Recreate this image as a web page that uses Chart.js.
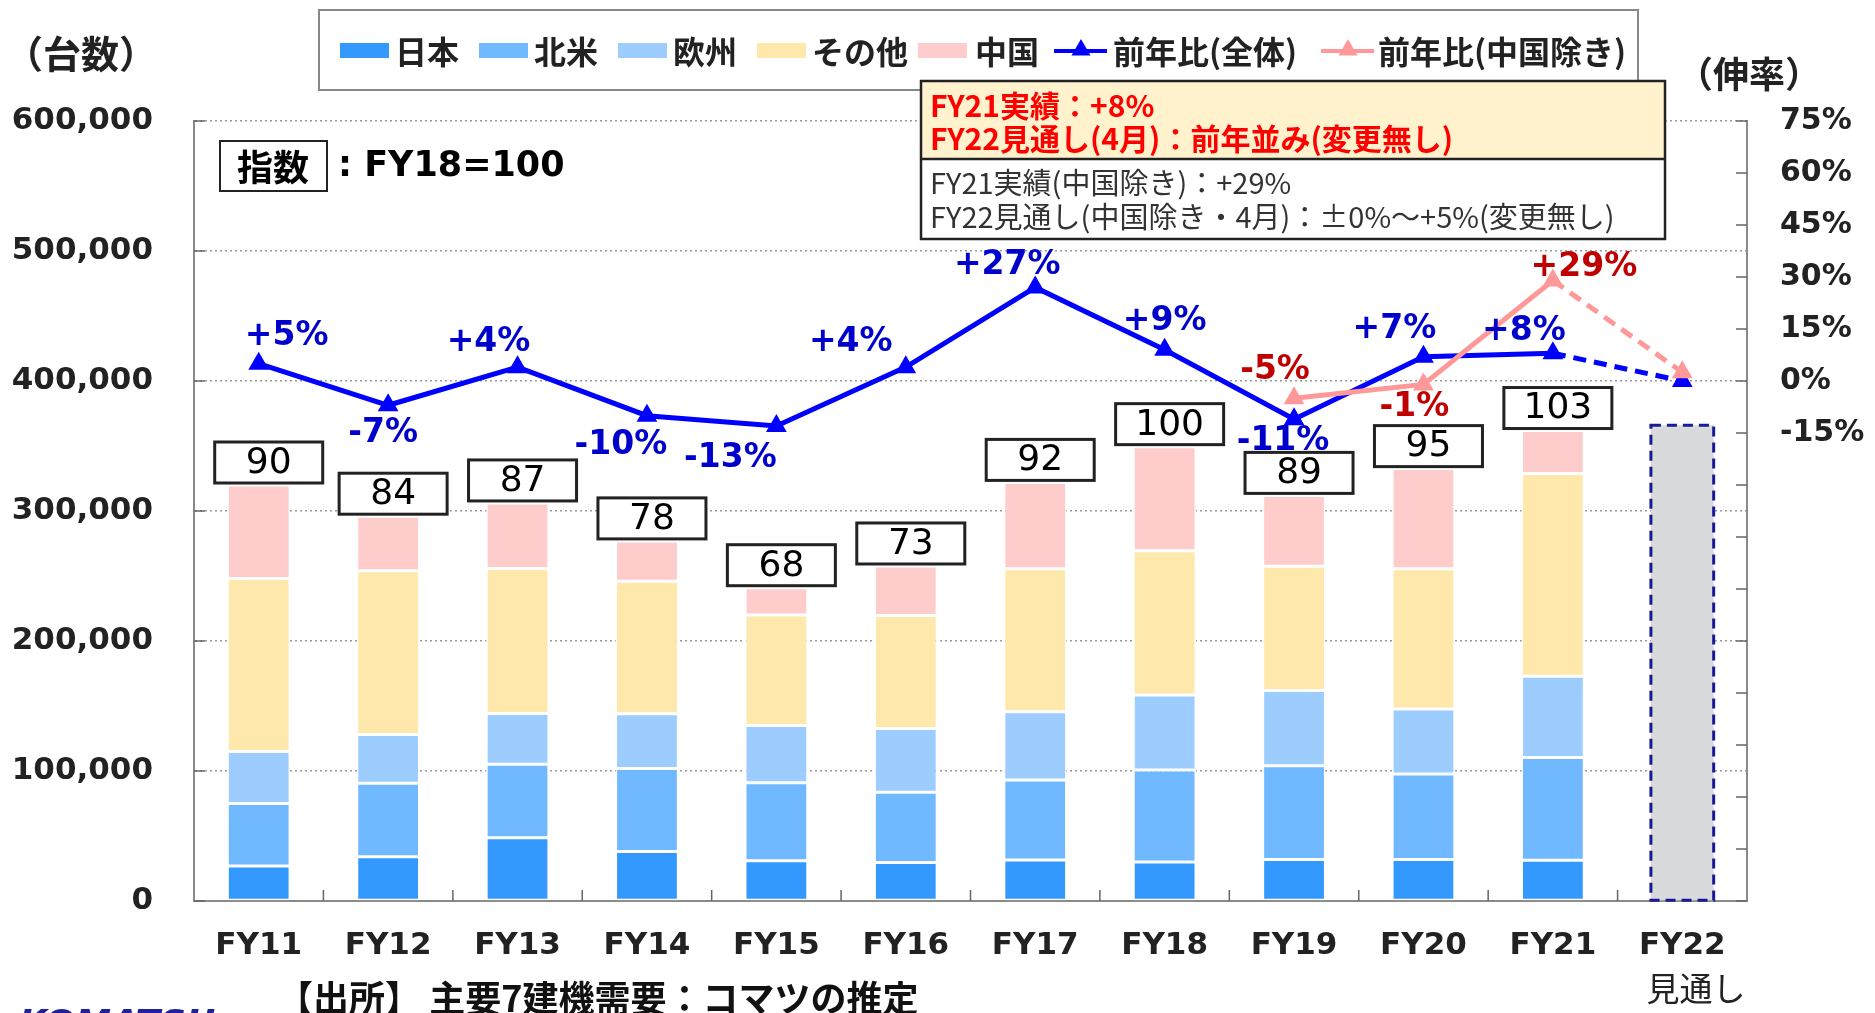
<!DOCTYPE html>
<html lang="ja">
<head>
<meta charset="utf-8">
<title>主要7建機需要</title>
<script src="https://cdn.jsdelivr.net/npm/chart.js@4.4.1/dist/chart.umd.min.js"></script>
<style>
  html, body { margin: 0; padding: 0; background: #fff; }
  canvas { display: block; }
</style>
</head>
<body>
<canvas id="demandChart" width="1875" height="1013"></canvas>
<script>
// 年度
const categories = ['FY11', 'FY12', 'FY13', 'FY14', 'FY15', 'FY16', 'FY17', 'FY18', 'FY19', 'FY20', 'FY21', 'FY22'];

// 地域別の台数 (積み上げ)
const japan        = [27000, 34000, 48700, 38000, 31000, 29700, 31500, 30000, 32000, 32000, 31300, null];
const northAmerica = [48000, 56500, 56500, 64000, 60000, 54000, 61500, 70800, 72000, 65600, 79000, null];
const europe       = [40000, 37500, 39000, 42000, 44000, 49000, 52500, 57700, 58000, 50000, 62600, null];
const others       = [133000, 126000, 111500, 102000, 85000, 87000, 110000, 111000, 95500, 108000, 156000, null];
const china        = [72000, 42000, 50500, 31000, 21000, 38000, 66500, 80000, 54500, 77000, 33000, null];
const outlook      = [null, null, null, null, null, null, null, null, null, null, null, 366000];

// 指数 (FY18=100)
const indexValues = [90, 84, 87, 78, 68, 73, 92, 100, 89, 95, 103, null];

// 前年比 (%)
const yoyTotal   = [5, -7, 4, -10, -13, 4, 27, 9, -11, 7, 8, 0];
const yoyExChina = [null, null, null, null, null, null, null, null, -5, -1, 29, 2.5];

// 軸の目盛り
const leftTicks = [0, 100000, 200000, 300000, 400000, 500000, 600000];
const rightMin = -150, rightMax = 75, rightStep = 15, rightLabelFrom = -15;

// ラベルの位置調整 (点からのずれ, px)
const totalLabelOffset = [[28, -27], [-5, 28], [-29, -25], [-26, 30], [-46, 32], [-55, -25],
                          [-28, -22], [0, -28], [-11, 22], [-29, -27], [-29, -22]];
const exChinaLabelOffset = { 8: [-19, -28], 9: [-9, 23], 10: [31, -13] };
const indexBoxShift = [10, 5, 5, 5, 5, 5, 5, 5, 5, 5, 5];

const COLORS = {
    japan: '#3399FF', na: '#70B8FF', eu: '#9DCDFF', others: '#FFE8AB', china: '#FFCCCC',
    outlook: '#D9DADC', blue: '#0000FF', pink: '#FF9999',
    blueText: '#0000CC', redText: '#C00000', text: '#222222', axis: '#8a8a8a'
};
const JP = '"Noto Sans CJK JP", "Noto Sans", sans-serif';
const LATIN = '"DejaVu Sans", "Verdana", sans-serif';

function fmtPct(v) {
    return (v > 0 ? '+' : '') + v + '%';
}

function text(ctx, str, x, y, font, color, align) {
    ctx.font = font;
    ctx.fillStyle = color;
    ctx.textAlign = align || 'center';
    ctx.textBaseline = 'middle';
    ctx.fillText(str, x, y);
}

function triangle(ctx, x, y, r, color) {
    ctx.beginPath();
    ctx.moveTo(x, y - r);
    ctx.lineTo(x + r * 0.866, y + r * 0.5);
    ctx.lineTo(x - r * 0.866, y + r * 0.5);
    ctx.closePath();
    ctx.fillStyle = color;
    ctx.fill();
}

const overlayPlugin = {
    id: 'overlay',
    beforeDatasetsDraw(chart) {
        // 内向きの目盛り線
        const ctx = chart.ctx, a = chart.chartArea;
        ctx.save();
        ctx.strokeStyle = '#666';
        ctx.lineWidth = 1.5;
        ctx.beginPath();
        chart.scales.y.ticks.forEach(t => {
            const py = chart.scales.y.getPixelForValue(t.value);
            ctx.moveTo(a.left, py); ctx.lineTo(a.left + 11, py);
        });
        chart.scales.y1.ticks.forEach(t => {
            const py = chart.scales.y1.getPixelForValue(t.value);
            ctx.moveTo(a.right - 11, py); ctx.lineTo(a.right, py);
        });
        const step = (a.right - a.left) / categories.length;
        for (let k = 1; k < categories.length; k++) {
            const px = a.left + k * step;
            ctx.moveTo(px, a.bottom); ctx.lineTo(px, a.bottom - 11);
        }
        ctx.stroke();
        ctx.restore();
    },
    beforeDatasetDraw(chart, args) {
        if (args.index !== 6) return;
        const ctx = chart.ctx;
        ctx.save();
        // 見通しの点線枠
        const ob = chart.getDatasetMeta(5).data[11];
        if (ob) {
            const p = ob.getProps(['x', 'y', 'base', 'width'], true);
            ctx.strokeStyle = '#1A1A99';
            ctx.lineWidth = 3;
            ctx.setLineDash([10, 6]);
            ctx.strokeRect(p.x - p.width / 2, p.y, p.width, p.base - p.y);
            ctx.setLineDash([]);
        }
        // 指数ボックス
        const top = chart.getDatasetMeta(4).data;
        indexValues.forEach((v, i) => {
            if (v == null) return;
            const el = top[i];
            const cx = el.x + indexBoxShift[i], bottom = el.y - 2;
            const w = 108, h = 41;
            ctx.fillStyle = '#fff';
            ctx.fillRect(cx - w / 2, bottom - h, w, h);
            ctx.strokeStyle = '#222';
            ctx.lineWidth = 3;
            ctx.strokeRect(cx - w / 2, bottom - h, w, h);
            text(ctx, String(v), cx, bottom - h / 2 + 1, '36px ' + LATIN, '#000');
        });
        ctx.restore();
    },
    afterDatasetsDraw(chart) {
        const ctx = chart.ctx;
        ctx.save();
        const blueMeta = chart.getDatasetMeta(6).data;
        totalLabelOffset.forEach((o, i) => {
            const el = blueMeta[i];
            text(ctx, fmtPct(yoyTotal[i]), el.x + o[0], el.y + o[1], 'bold 33px ' + LATIN, COLORS.blueText);
        });
        const pinkMeta = chart.getDatasetMeta(7).data;
        Object.keys(exChinaLabelOffset).forEach(k => {
            const i = +k, o = exChinaLabelOffset[k], el = pinkMeta[i];
            text(ctx, fmtPct(yoyExChina[i]), el.x + o[0], el.y + o[1], 'bold 33px ' + LATIN, COLORS.redText);
        });
        ctx.restore();
    },
    afterDraw(chart) {
        const ctx = chart.ctx;
        ctx.save();

        // 軸タイトル
        text(ctx, '（台数）', 81, 54, 'bold 38px ' + JP, COLORS.text);
        text(ctx, '（伸率）', 1749, 74, 'bold 36px ' + JP, COLORS.text);

        // 凡例
        ctx.strokeStyle = '#888';
        ctx.lineWidth = 2;
        ctx.strokeRect(319, 10, 1319, 80);
        const swatches = [
            ['日本', COLORS.japan, 340, 395], ['北米', COLORS.na, 479, 534],
            ['欧州', COLORS.eu, 618, 673], ['その他', COLORS.others, 757, 812],
            ['中国', COLORS.china, 918, 975]
        ];
        swatches.forEach(s => {
            ctx.fillStyle = s[1];
            ctx.fillRect(s[2], 43, 49, 15);
            text(ctx, s[0], s[3], 52, 'bold 32px ' + JP, COLORS.text, 'left');
        });
        [['前年比(全体)', COLORS.blue, 1054, 1113], ['前年比(中国除き)', COLORS.pink, 1321, 1378]].forEach(s => {
            ctx.strokeStyle = s[1];
            ctx.lineWidth = 4;
            ctx.beginPath();
            ctx.moveTo(s[2], 51); ctx.lineTo(s[2] + 53, 51);
            ctx.stroke();
            triangle(ctx, s[2] + 27, 50, 11, s[1]);
            text(ctx, s[0], s[3], 52, 'bold 32px ' + JP, COLORS.text, 'left');
        });

        // 指数の注記
        ctx.strokeStyle = '#222';
        ctx.lineWidth = 2;
        ctx.strokeRect(220, 141, 107, 50);
        text(ctx, '指数', 273, 167, 'bold 36px ' + JP, '#000');
        text(ctx, ': FY18=100', 338, 167, 'bold 35px ' + LATIN, '#000', 'left');

        // 右上の説明ボックス
        ctx.fillStyle = '#FFF2CC';
        ctx.fillRect(921, 81, 744, 78);
        ctx.fillStyle = '#fff';
        ctx.fillRect(921, 159, 744, 80);
        ctx.strokeStyle = '#222';
        ctx.lineWidth = 2.5;
        ctx.strokeRect(921, 81, 744, 158);
        ctx.beginPath();
        ctx.moveTo(921, 159); ctx.lineTo(1665, 159);
        ctx.stroke();
        text(ctx, 'FY21実績：+8%', 930, 106, 'bold 30px ' + JP, '#FF0000', 'left');
        text(ctx, 'FY22見通し(4月)：前年並み(変更無し)', 930, 139, 'bold 30px ' + JP, '#FF0000', 'left');
        text(ctx, 'FY21実績(中国除き)：+29%', 930, 183, '29px ' + JP, '#333', 'left');
        text(ctx, 'FY22見通し(中国除き・4月)：±0%～+5%(変更無し)', 930, 217, '29px ' + JP, '#333', 'left');

        // FY22 下段
        text(ctx, '見通し', 1696, 988, '33px ' + JP, COLORS.text);

        // 出所
        text(ctx, '【出所】 主要7建機需要：コマツの推定', 277, 998, 'bold 36px ' + JP, '#111', 'left');
        ctx.font = 'bold italic 36px ' + LATIN;
        ctx.fillStyle = '#1F1F9F';
        ctx.textAlign = 'left';
        ctx.textBaseline = 'alphabetic';
        ctx.fillText('KOMATSU', 19, 1035);

        ctx.restore();
    }
};

const barBorder = { borderColor: 'rgba(255,255,255,0.95)', borderWidth: 1.5, borderSkipped: false };

new Chart(document.getElementById('demandChart'), {
    type: 'bar',
    data: {
        labels: categories,
        datasets: [
            { label: '日本', data: japan, backgroundColor: COLORS.japan, stack: 's', order: 2, ...barBorder },
            { label: '北米', data: northAmerica, backgroundColor: COLORS.na, stack: 's', order: 2, ...barBorder },
            { label: '欧州', data: europe, backgroundColor: COLORS.eu, stack: 's', order: 2, ...barBorder },
            { label: 'その他', data: others, backgroundColor: COLORS.others, stack: 's', order: 2, ...barBorder },
            { label: '中国', data: china, backgroundColor: COLORS.china, stack: 's', order: 2, ...barBorder },
            { label: '見通し', data: outlook, backgroundColor: COLORS.outlook, stack: 's', order: 2, borderWidth: 0 },
            {
                type: 'line', label: '前年比(全体)', data: yoyTotal, yAxisID: 'y1', order: 1,
                borderColor: COLORS.blue, backgroundColor: COLORS.blue, borderWidth: 5,
                pointStyle: 'triangle', pointRadius: 12, pointBorderWidth: 0, tension: 0,
                segment: { borderDash: c => c.p1DataIndex === 11 ? [13, 8] : undefined }
            },
            {
                type: 'line', label: '前年比(中国除き)', data: yoyExChina, yAxisID: 'y1', order: 0,
                borderColor: COLORS.pink, backgroundColor: COLORS.pink, borderWidth: 5,
                pointStyle: 'triangle', pointRadius: 12, pointBorderWidth: 0, tension: 0, spanGaps: false,
                segment: { borderDash: c => c.p1DataIndex === 11 ? [13, 8] : undefined }
            }
        ]
    },
    options: {
        responsive: false,
        animation: false,
        devicePixelRatio: 1,
        layout: { padding: { top: 121, left: 0, right: 0, bottom: 0 } },
        plugins: { legend: { display: false }, tooltip: { enabled: false } },
        datasets: { bar: { barPercentage: 0.485, categoryPercentage: 1.0 } },
        scales: {
            x: {
                stacked: true,
                grid: { display: true, color: 'rgba(0,0,0,0)', drawTicks: false },
                border: { display: true, color: COLORS.axis, width: 2 },
                ticks: { font: { family: LATIN, size: 31, weight: 'bold' }, color: COLORS.text, padding: 26, maxRotation: 0 },
                afterFit: s => { s.height = 112; }
            },
            y: {
                stacked: true,
                min: 0, max: 600000,
                afterBuildTicks: s => { s.ticks = leftTicks.map(v => ({ value: v })); },
                grid: { color: '#9a9a9a', lineWidth: 1.5, drawTicks: false },
                border: { display: true, color: COLORS.axis, width: 2, dash: [2, 3] },
                ticks: {
                    font: { family: LATIN, size: 31, weight: 'bold' }, color: COLORS.text, padding: 41,
                    callback: v => v.toLocaleString('en-US')
                },
                afterFit: s => { s.width = 194; }
            },
            y1: {
                position: 'right',
                min: rightMin, max: rightMax,
                grid: { display: true, color: 'rgba(0,0,0,0)', drawTicks: false },
                border: { display: true, color: COLORS.axis, width: 2 },
                ticks: {
                    stepSize: rightStep, autoSkip: false,
                    font: { family: LATIN, size: 30, weight: 'bold' }, color: COLORS.text, padding: 33,
                    callback: v => v >= rightLabelFrom ? v + '%' : ''
                },
                afterFit: s => { s.width = 128; }
            }
        }
    },
    plugins: [overlayPlugin]
});
</script>
</body>
</html>
